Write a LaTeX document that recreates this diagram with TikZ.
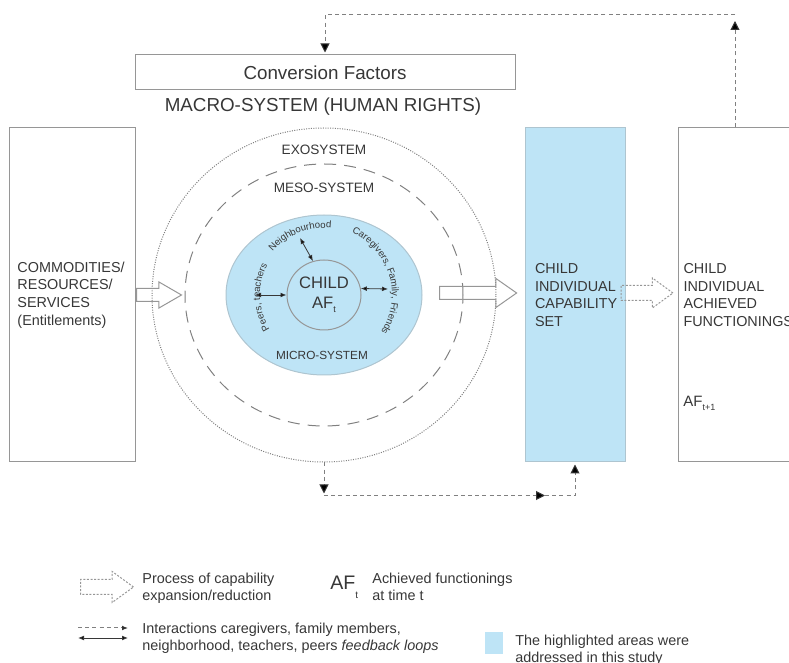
\documentclass[tikz,border=0pt]{standalone}
\usepackage{fontspec}
\setmainfont{Liberation Sans}
\usepackage{tikz}
\usetikzlibrary{positioning,calc,shapes.geometric,shapes.arrows,arrows.meta,decorations.text}

\definecolor{hilite}{RGB}{190,228,246}
\definecolor{ink}{RGB}{55,55,55}
\definecolor{rim}{RGB}{150,150,150}
\newcommand{\lowsub}[1]{\raisebox{-0.5ex}{\fontsize{4.5}{5}\selectfont #1}}
\newcommand{\curvy}{\fontsize{4.8}{6}\selectfont}

\begin{document}
\begin{tikzpicture}[x=0.5pt,y=0.5pt,
  every node/.style={text=ink,font=\fontsize{7.2}{8.8}\selectfont},
  panels/.style={rectangle,draw=rim,line width=0.5pt,minimum height=167pt,align=left,text width=#1},
  rings/.style={ellipse,inner sep=0pt,draw=rim,line width=0.5pt},
  blockarr/.style={single arrow,draw=rim,line width=0.5pt,inner xsep=0pt,minimum width=0pt},
  fb/.style={draw=gray,dash pattern=on 2pt off 1.6pt,line width=0.5pt},
  fbtip/.style={-{Triangle[length=4.5pt,width=4.5pt,color=ink]}},
  ia/.style={{Latex[length=3pt,width=2.4pt]}-{Latex[length=3pt,width=2.4pt]},draw=ink,line width=0.4pt},
  legend/.style={font=\fontsize{7.2}{8.4}\selectfont,align=left,anchor=west,inner sep=0pt},
]
\useasboundingbox (0,0) rectangle (789,-663);

% side panels
\node (comm) [panels=55pt,inner xsep=4pt] at (72.5,-295) {COMMODITIES/\\RESOURCES/\\SERVICES\\(Entitlements)};
\node (capab) [panels=40pt,inner xsep=5pt,fill=hilite,draw=hilite!60!rim] at (575,-295) {CHILD\\INDIVIDUAL\\CAPABILITY\\SET};
\node (achv) [panels=60pt,inner xsep=2.5pt,anchor=west] at (678,-295) {CHILD\\INDIVIDUAL\\ACHIEVED\\FUNCTIONINGS};
\node (afnext) [anchor=west,inner sep=0pt,font=\fontsize{7.5}{9}\selectfont] at (683,-403) {AF\lowsub{t+1}};

% conversion factors
\node (conv) [draw=rim,line width=0.5pt,minimum width=190pt,minimum height=17.5pt,font=\fontsize{9.4}{11}\selectfont] at (325,-72.5) {Conversion Factors};
\node (macro) [font=\fontsize{9.4}{11}\selectfont] at (323,-107) {MACRO-SYSTEM (HUMAN RIGHTS)};

% systems
\coordinate (hub) at (324,-295);
\node (exo) [rings,minimum width=172pt,minimum height=167pt,draw=gray,dash pattern=on 0.5pt off 0.7pt] at (hub) {};
\node (meso) [rings,minimum width=139pt,minimum height=131pt,draw=gray,dash pattern=on 6pt off 4pt] at (hub) {};
\node (micro) [rings,minimum width=98pt,minimum height=80pt,fill=hilite,draw=hilite!60!rim] at (hub) {};
\node (child) [rings,minimum width=37pt,minimum height=35pt,align=center,font=\fontsize{8.3}{10}\selectfont] at (hub) {CHILD\\AF\lowsub{t}};

\node (exolab) [font=\fontsize{6.8}{8}\selectfont] at (324,-150) {EXOSYSTEM};
\node (mesolab) [font=\fontsize{6.8}{8}\selectfont] at (324,-188) {MESO-SYSTEM};
\node (microlab) [font=\fontsize{5.9}{7}\selectfont] at (322,-355) {MICRO-SYSTEM};

\path[decorate,decoration={text along path,text align=center,text color=ink,text={|\curvy|Peers, teachers}}]
  ($(hub)+(240:64)$) arc[start angle=240,end angle=124,radius=64];
\path[decorate,decoration={text along path,text align=center,text color=ink,text={|\curvy|Neighbourhood}}]
  ($(hub)+(160:67)$) arc[start angle=160,end angle=64,radius=67];
\path[decorate,decoration={text along path,text align=center,text color=ink,text={|\curvy|Caregivers, Family, Friends}}]
  ($(hub)+(80:68)$) arc[start angle=80,end angle=-47,radius=68];

% interactions
\coordinate (nbr) at (300,-238);
\coordinate (peer) at (255,-295);
\coordinate (care) at (388,-289);
\draw[ia] (nbr) -- (child.108);
\draw[ia] (peer) -- (child.west);
\draw[ia] (care) -- (child.10);

% flows
\node (inflow) [blockarr,inner ysep=3pt,single arrow head extend=3.25pt,single arrow tip angle=60,minimum height=22.5pt,anchor=tail] at (comm.east) {};
\node (outflow) [blockarr,inner ysep=3pt,single arrow head extend=4pt,single arrow tip angle=70,minimum height=38.5pt,anchor=tip] at ($(capab.west)+(-7,2)$) {};
\node (achflow) [blockarr,dash pattern=on 1pt off 0.8pt,inner ysep=3.5pt,single arrow head extend=3.75pt,single arrow tip angle=72,minimum height=26pt,anchor=tail] at ($(capab.east)+(-5,2)$) {};

% feedback loops
\coordinate (topR) at (735,-15);
\coordinate (topL) at (conv.north |- topR);
\draw[fb,fbtip] (achv.north -| topR) -- ($(topR)+(0,-6)$);
\draw[fb,fbtip] (topR) -- (topL) -- ($(conv.north)+(0,2)$);

\coordinate (botL) at ($(exo.south)+(0,-33)$);
\coordinate (botR) at (capab.south |- botL);
\coordinate (botM) at ($(botR)+(-30,0)$);
\draw[fb,fbtip] (exo.south) -- ($(botL)+(0,2)$);
\draw[fb,fbtip] (botL) -- (botM);
\draw[fb,fbtip] (botM) -- (botR) -- ($(capab.south)+(0,-2)$);

% legend
\node (lgflow) [blockarr,dash pattern=on 1pt off 0.8pt,inner ysep=3.5pt,single arrow head extend=4pt,single arrow tip angle=72,minimum height=26.5pt,anchor=tail] at (80,-587) {};
\node (lgflowtxt) [legend] at (142,-588) {Process of capability\\expansion/reduction};
\node (lgaf) [anchor=west,inner sep=0pt,font=\fontsize{9.8}{11}\selectfont] at (330,-587) {AF\raisebox{-0.9ex}{\fontsize{5}{6}\selectfont t}};
\node (lgaftxt) [legend] at (372,-587) {Achieved functionings\\at time t};
\coordinate (lgA) at (78,-628);
\coordinate (lgB) at (128,-628);
\coordinate (lgC) at (78,-638);
\coordinate (lgD) at (128,-638);
\draw[fb,-{Latex[length=3pt,width=2.4pt,color=ink]}] (lgA) -- (lgB);
\draw[ia] (lgC) -- (lgD);
\node (lgloop) [legend] at (142,-638) {Interactions caregivers, family members,\\neighborhood, teachers, peers \textit{feedback loops}};
\node (lgkey) [fill=hilite,minimum width=9pt,minimum height=11pt,inner sep=0pt] at (494,-643) {};
\node (lgkeytxt) [legend] at (515,-650) {The highlighted areas were\\addressed in this study};
\end{tikzpicture}
\end{document}
